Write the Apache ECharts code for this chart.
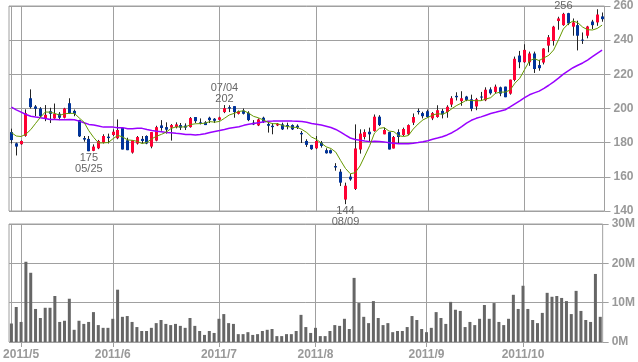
<!DOCTYPE html>
<html><head><meta charset="utf-8">
<script src="https://cdn.jsdelivr.net/npm/echarts@6/dist/echarts.min.js"></script>
<style>html,body{margin:0;padding:0;background:#fff}#c{width:638px;height:362px}</style>
</head><body><div id="c"></div>
<script>
// Trading days per month (Tokyo market, 2011)
const tradingDays = {
  '2011/04': [27,28],
  '2011/05': [2,6,9,10,11,12,13,16,17,18,19,20,23,24,25,26,27,30,31],
  '2011/06': [1,2,3,6,7,8,9,10,13,14,15,16,17,20,21,22,23,24,27,28,29,30],
  '2011/07': [1,4,5,6,7,8,11,12,13,14,15,19,20,21,22,25,26,27,28,29],
  '2011/08': [1,2,3,4,5,8,9,10,11,12,15,16,17,18,19,22,23,24,25,26,29,30,31],
  '2011/09': [1,2,5,6,7,8,9,12,13,14,15,16,20,21,22,26,27,28,29,30],
  '2011/10': [3,4,5,6,7,11,12,13,14,17,18,19,20,21,24,25,26]
};
const opens = [
186.2,179.6,179.1,184.0,206.0,201.2,200.0,194.2,198.4,194.2,
196.9,194.6,203.1,198.6,193.2,182.7,182.2,175.2,176.7,180.0,
183.5,184.5,182.6,188.6,181.4,174.2,179.5,182.2,183.9,177.7,
181.2,190.1,189.1,188.8,189.1,190.3,190.0,189.1,195.0,191.9,
191.9,194.6,194.0,193.4,197.9,200.8,201.4,196.9,198.8,197.5,
191.7,190.1,194.6,190.9,189.9,190.1,190.7,190.3,190.3,189.9,
185.7,181.0,178.7,176.7,180.0,175.6,175.6,166.3,163.0,146.7,
160.1,152.9,176.0,183.3,186.4,186.8,195.2,184.9,186.2,176.6,
186.2,184.5,184.9,191.7,198.6,197.3,198.4,194.2,195.0,198.6,
197.9,202.3,207.4,204.3,207.0,205.4,201.2,207.0,204.8,211.2,
209.7,212.4,212.8,208.7,216.7,231.0,227.1,227.1,232.2,225.4,
226.9,236.8,239.5,251.2,248.8,255.8,247.9,248.8,240.3,242.6,
250.9,250.4,253.9];
const closes = [
181.5,177.7,181.0,197.3,200.8,199.8,195.5,196.3,196.9,196.9,
194.6,200.0,197.3,196.9,183.7,181.8,175.0,177.7,181.0,183.9,
182.7,186.4,187.4,176.0,175.6,181.4,183.3,181.0,179.5,186.2,
189.1,188.6,187.6,190.3,190.7,188.8,188.8,194.4,192.6,191.1,
190.3,193.2,192.8,194.8,200.2,200.0,197.9,198.4,196.9,193.2,
190.7,193.6,192.2,189.9,189.1,190.9,187.8,189.5,187.8,188.8,
184.9,178.7,176.2,181.0,178.1,173.8,173.8,165.5,156.6,154.8,
158.5,176.6,185.3,186.2,184.9,195.2,190.3,187.4,176.0,183.3,
183.3,188.0,190.3,195.0,197.9,195.5,195.0,197.3,199.0,196.5,
201.0,206.0,206.6,206.0,205.0,199.8,205.4,206.6,211.0,208.9,
212.8,208.7,206.6,216.9,229.1,227.1,234.3,232.2,223.1,223.6,
235.1,241.7,247.9,252.7,255.4,249.8,250.4,242.6,239.9,248.0,
248.8,255.0,252.3];
const lows = [
179.5,172.5,178.8,183.5,200.0,195.5,194.6,192.6,191.5,194.0,
193.2,194.2,196.9,195.5,183.3,180.6,175.0,175.0,176.2,179.5,
179.5,183.9,182.0,176.0,175.6,173.6,178.9,179.5,179.1,176.7,
180.8,187.0,185.3,181.2,188.4,187.4,187.4,188.8,191.5,190.7,
190.3,191.5,191.5,193.0,197.3,197.9,194.6,196.5,196.5,192.6,
190.3,189.7,191.5,185.9,184.9,189.7,187.4,187.8,187.4,188.0,
179.8,177.5,175.8,176.2,177.1,173.6,173.6,163.6,154.6,144.0,
157.7,152.3,173.6,181.9,181.0,186.4,189.7,184.9,176.0,176.6,
179.5,183.9,184.5,190.3,196.5,194.2,194.6,193.2,194.6,194.2,
194.6,200.8,204.7,201.6,204.3,198.4,199.0,204.7,204.3,208.1,
208.7,207.2,206.6,208.1,215.9,223.6,226.7,225.0,220.8,222.1,
225.8,232.9,236.8,246.1,248.4,248.8,242.6,234.0,237.8,241.1,
246.5,248.4,250.8];
const highs = [
188.2,180.0,181.3,199.5,211.2,202.0,200.8,202.0,200.4,202.9,
197.9,200.4,206.0,199.4,193.4,183.9,183.9,179.0,181.6,184.9,
185.3,187.8,193.6,188.6,182.9,181.4,183.9,183.9,184.3,186.2,
189.9,193.2,191.9,190.9,191.9,191.5,191.3,195.0,195.0,194.2,
192.6,195.2,194.4,195.2,202.0,201.9,201.4,198.8,200.0,198.4,
193.2,194.2,195.2,192.2,191.5,191.5,191.7,191.7,190.7,190.7,
186.8,182.0,178.7,183.9,181.0,176.7,176.0,168.0,164.5,156.6,
161.6,190.7,187.8,187.8,188.8,196.5,196.1,188.8,186.2,183.9,
187.8,188.8,190.7,197.1,200.0,198.1,199.4,197.9,201.9,199.8,
201.9,207.2,209.5,210.1,207.4,208.1,206.2,209.7,212.4,212.4,
214.0,212.8,212.8,216.9,230.4,233.7,237.6,233.3,233.3,228.5,
235.3,243.0,248.4,253.7,256.0,256.0,252.7,251.4,244.5,248.4,
251.9,258.1,256.2];
// volume, millions of shares
const volumes = [
4.7,8.9,5.1,20.4,17.6,8.4,6.1,8.7,8.7,11.7,
5.1,5.4,11.0,3.1,5.4,4.6,5.1,7.6,4.3,3.6,
3.6,5.9,13.3,6.4,6.6,5.1,3.8,2.8,2.8,3.6,
4.8,5.6,4.6,4.3,4.6,4.1,3.6,6.1,4.1,2.8,
1.8,2.8,2.3,5.9,7.1,4.8,4.6,2.0,2.0,2.5,
1.8,2.0,2.8,3.1,3.3,1.5,1.5,2.0,2.0,2.8,
6.9,3.8,2.3,3.6,1.5,1.5,2.8,4.3,4.1,5.9,
3.3,16.3,9.9,6.4,4.8,10.4,6.1,4.3,4.8,2.5,
2.8,2.8,3.8,6.6,5.6,3.3,2.5,3.6,7.6,6.1,
4.6,10.2,8.2,7.9,3.8,5.1,4.3,5.9,9.4,5.9,
9.9,5.1,4.3,5.9,12.0,8.4,14.3,8.4,5.6,4.8,
7.4,12.5,11.5,11.7,11.2,10.4,7.1,13.0,7.9,5.6,
5.1,17.3,6.4];
// moving-average values read from the chart where earlier history is not shown
const ma5Head = [185.9,183.9,183.6,185.0];
const ma25Head = [200.8,199.2,197.9,196.5,195.5,195.0,194.6,194.2,193.6,193.6,193.4,193.4,
                  193.6,193.4,192.6,191.7,190.7,190.3,189.7,189.1,189.1,189.1,188.8,188.8];
// annotations: category index, value, side
const annoIndex = [16, 44, 69, 114];
const annoValue = [175, 202, 144, 256];
const annoSide = ['bottom', 'top', 'bottom', 'top'];

const categories = [];
const monthStart = new Set();
Object.keys(tradingDays).forEach(function (m) {
  tradingDays[m].forEach(function (d, k) {
    if (k === 0) monthStart.add(categories.length);
    categories.push(m + '/' + (d < 10 ? '0' + d : d));
  });
});
function movingAvg(n, head) {
  return closes.map(function (c, i) {
    if (i < n - 1) return head[i];
    let s = 0;
    for (let j = i - n + 1; j <= i; j++) s += closes[j];
    return +(s / n).toFixed(2);
  });
}
const ma5 = movingAvg(5, ma5Head);
const ma25 = movingAvg(25, ma25Head);
const candleData = closes.map(function (c, i) { return [i, opens[i], c, lows[i], highs[i]]; });
const isMonth = function (idx) { return monthStart.has(idx); };

const UP = '#ff0033', DOWN = '#003399', GRID = '#a0a0a0', LABEL = '#999999';
const labelFont = { color: LABEL, fontSize: 12, fontWeight: 'bold', fontFamily: 'Liberation Sans' };

function renderCandle(params, api) {
  const i = api.value(0);
  const o = api.value(1), c = api.value(2), l = api.value(3), h = api.value(4);
  const pO = api.coord([i, o]), pC = api.coord([i, c]);
  const pL = api.coord([i, l]), pH = api.coord([i, h]);
  const cx = Math.round(pO[0] - 0.5) + 0.5;
  const top = Math.min(pO[1], pC[1]), bot = Math.max(pO[1], pC[1]);
  return {
    type: 'group',
    children: [
      { type: 'line', shape: { x1: cx, y1: pH[1], x2: cx, y2: pL[1] }, style: { stroke: '#222', lineWidth: 1 } },
      { type: 'rect', shape: { x: cx - 1.5, y: top, width: 3, height: Math.max(bot - top, 1) },
        style: { fill: c >= o ? UP : DOWN } }
    ]
  };
}

const chart = echarts.init(document.getElementById('c'), null, { renderer: 'canvas' });
chart.setOption({
  animation: false,
  backgroundColor: '#fff',
  grid: [
    { left: 9, top: 4, width: 595.5, height: 207, show: true, borderColor: GRID, borderWidth: 1 },
    { left: 9, top: 224, width: 595.5, height: 118, show: true, borderColor: GRID, borderWidth: 1 }
  ],
  xAxis: [
    { type: 'category', gridIndex: 0, data: categories, boundaryGap: true,
      axisLine: { show: false }, axisTick: { show: false }, axisLabel: { show: false },
      splitLine: { show: true, interval: isMonth, alignWithLabel: true, lineStyle: { color: GRID, width: 1 } } },
    { type: 'category', gridIndex: 1, data: categories, boundaryGap: true,
      axisLine: { show: false },
      axisTick: { show: true, interval: isMonth, alignWithLabel: true, length: 5, lineStyle: { color: GRID } },
      axisLabel: Object.assign({ interval: isMonth, margin: 7,
        formatter: function (v) { const p = v.split('/'); return p[0] + '/' + parseInt(p[1], 10); } }, labelFont),
      splitLine: { show: true, interval: isMonth, alignWithLabel: true, lineStyle: { color: GRID, width: 1 } } }
  ],
  yAxis: [
    { type: 'value', gridIndex: 0, position: 'right', min: 140, max: 260, interval: 20,
      axisLine: { show: false }, axisTick: { show: true, length: 6, lineStyle: { color: GRID } },
      axisLabel: Object.assign({ margin: 9 }, labelFont),
      splitLine: { show: true, lineStyle: { color: GRID, width: 1 } } },
    { type: 'value', gridIndex: 1, position: 'right', min: 0, max: 30, interval: 10,
      axisLine: { show: false }, axisTick: { show: true, length: 6, lineStyle: { color: GRID } },
      axisLabel: Object.assign({ margin: 9, formatter: '{value}M' }, labelFont),
      splitLine: { show: true, lineStyle: { color: GRID, width: 1 } } }
  ],
  series: [
    { type: 'custom', name: 'price', xAxisIndex: 0, yAxisIndex: 0, renderItem: renderCandle,
      encode: { x: 0, y: [1, 2, 3, 4] }, data: candleData, z: 2 },
    { type: 'line', name: 'MA25', xAxisIndex: 0, yAxisIndex: 0, data: ma25, symbol: 'none',
      lineStyle: { color: '#9900ff', width: 1.5 }, z: 3 },
    { type: 'line', name: 'MA5', xAxisIndex: 0, yAxisIndex: 0, data: ma5, symbol: 'none',
      lineStyle: { color: '#669900', width: 1 }, z: 4,
      markPoint: {
        symbol: 'rect', symbolSize: 0,
        data: annoIndex.map(function (idx, k) {
          const md = categories[idx].slice(5);
          const v = annoValue[k];
          return { coord: [idx, v], value: v,
            label: { show: true, position: annoSide[k], distance: 1, color: '#666', fontSize: 11,
              lineHeight: 11, fontFamily: 'Liberation Sans',
              formatter: annoSide[k] === 'top' ? md + '\n' + v : v + '\n' + md } };
        })
      } },
    { type: 'bar', name: 'Volume', xAxisIndex: 1, yAxisIndex: 1, data: volumes, barWidth: 3,
      itemStyle: { color: '#666666' } }
  ]
});
</script>
</body></html>
